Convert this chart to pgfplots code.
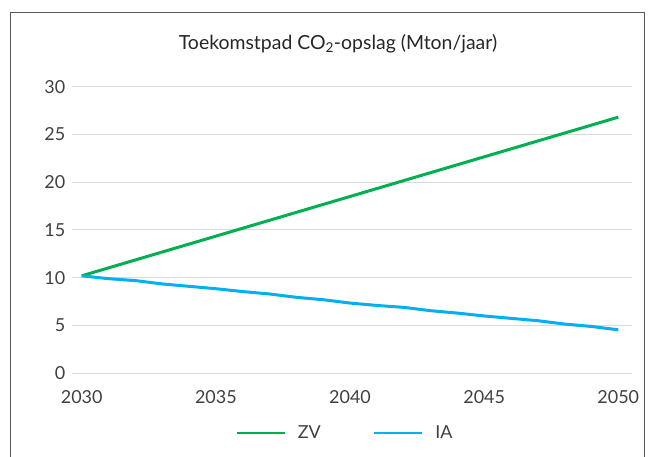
\documentclass[border=0pt]{standalone}
\usepackage{fontspec}
\setmainfont{Lato}
\usepackage{pgfplots}
\pgfplotsset{compat=1.18}
\definecolor{zv}{HTML}{00B050}
\definecolor{ia}{HTML}{00B0F0}
\definecolor{gridc}{HTML}{D9D9D9}
\definecolor{txt}{HTML}{404040}
\begin{document}
\begin{tikzpicture}[x=1bp,y=1bp]
\useasboundingbox (0,0) rectangle (651,457);
\draw[color=black!65, line width=1bp] (10,-2) -- (10,444.5) -- (644,444.5) -- (644,-2);
\node[font=\fontsize{19.5}{22}\selectfont, text=black!85] at (338,413) {Toekomstpad CO\textsubscript{2}-opslag (Mton/jaar)};
\begin{axis}[
  at={(71.7bp,83.7bp)}, anchor=south west, scale only axis,
  width=560bp, height=286.7bp,
  xmin=2029.627, xmax=2050.5, ymin=0, ymax=30,
  axis line style={draw=none}, major tick length=0pt,
  ymajorgrids, grid style={gridc, line width=1bp},
  xtick={2030,2035,2040,2045,2050}, ytick={0,5,10,15,20,25,30},
  /pgf/number format/1000 sep={}, /pgf/number format/assume math mode=true,
  tick label style={font=\fontsize{18}{20}\selectfont, text=txt},
  xticklabel style={yshift=-14bp},
  yticklabel style={xshift=-3bp},
  legend style={at={(0.488,-0.208)}, anchor=center, draw=none, fill=none,
    legend columns=2, font=\fontsize{18}{20}\selectfont, text=txt,
    /tikz/every odd column/.append style={column sep=10bp},
    /tikz/every even column/.append style={column sep=50bp}},
  legend image code/.code={\draw[#1, line width=2.5bp] (0bp,0bp) -- (48bp,0bp);},
]
\addplot[zv, line width=3bp] coordinates {
(2030,10.2)(2031,11.03)(2032,11.86)(2033,12.69)(2034,13.52)(2035,14.35)(2036,15.18)(2037,16.01)(2038,16.84)(2039,17.67)(2040,18.5)(2041,19.33)(2042,20.16)(2043,20.99)(2044,21.82)(2045,22.65)(2046,23.48)(2047,24.31)(2048,25.14)(2049,25.97)(2050,26.8)};
\addlegendentry{ZV}
\addplot[ia, line width=3bp] coordinates {
(2030,10.2)(2031,9.9)(2032,9.7)(2033,9.35)(2034,9.1)(2035,8.85)(2036,8.55)(2037,8.3)(2038,7.95)(2039,7.7)(2040,7.35)(2041,7.1)(2042,6.9)(2043,6.55)(2044,6.3)(2045,6.0)(2046,5.75)(2047,5.5)(2048,5.15)(2049,4.9)(2050,4.55)};
\addlegendentry{IA}
\end{axis}
\end{tikzpicture}
\end{document}
